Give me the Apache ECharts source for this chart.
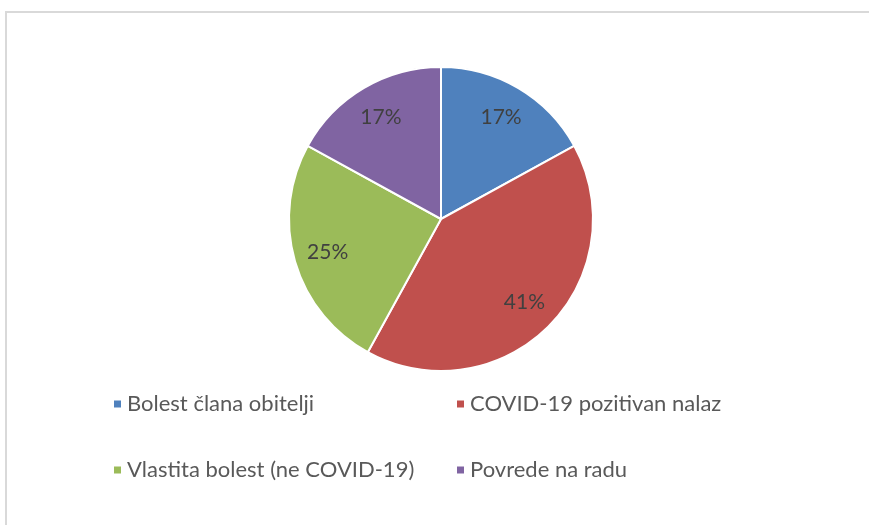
<!DOCTYPE html>
<html>
<head>
<meta charset="utf-8">
<script src="https://cdn.jsdelivr.net/npm/echarts@6/dist/echarts.min.js"></script>
<style>
  html, body { margin: 0; padding: 0; background: #fff; }
  #frame { position: absolute; left: 5px; top: 11px; width: 864px; height: 514px;
           border-left: 2px solid #d9d9d9; border-top: 2px solid #d9d9d9; box-sizing: border-box; }
  #chart { position: absolute; left: 0; top: 0; width: 869px; height: 525px; }
</style>
</head>
<body>
<div id="frame"></div>
<div id="chart"></div>
<script>
// categories + shares (%)
const categories = [
  'Bolest člana obitelji',
  'COVID-19 pozitivan nalaz',
  'Vlastita bolest (ne COVID-19)',
  'Povrede na radu',
];
const values = [17, 41, 25, 17];
const colors = ['#4f81bd', '#c0504d', '#9bbb59', '#8064a2'];

const FONT = 'Lato, "Open Sans", sans-serif';
const R = 152;

const chart = echarts.init(document.getElementById('chart'), null, { renderer: 'canvas' });

// legend: one per item so the 2x2 grid sits where the original has it
const legendPos = [
  { left: 112, top: 393 },
  { left: 455, top: 393 },
  { left: 112, top: 459 },
  { left: 455, top: 459 },
];
const legends = categories.map((name, i) => ({
  data: [name],
  left: legendPos[i].left,
  top: legendPos[i].top,
  padding: 0,
  icon: 'rect',
  itemWidth: 9,
  itemHeight: 9,
  itemGap: 6,
  selectedMode: false,
  textStyle: { color: '#595959', fontSize: 22, fontFamily: FONT, padding: [0, 0, 0, 0] },
}));

const pieData = categories.map((name, i) => ({
  name,
  value: values[i],
  itemStyle: { color: colors[i] },
}));

chart.setOption({
  animation: false,
  legend: legends,
  series: [
    {
      type: 'pie',
      center: [441, 219],
      radius: [0, R],
      startAngle: 90,
      clockwise: true,
      label: { show: false },
      labelLine: { show: false },
      itemStyle: { borderColor: '#fff', borderWidth: 2 },
      data: pieData,
    },
    {
      // transparent ring only used to place the % labels further out
      type: 'pie',
      center: [441, 219],
      radius: [78, R],
      startAngle: 90,
      clockwise: true,
      silent: true,
      legendHoverLink: false,
      itemStyle: { color: 'rgba(0,0,0,0)', borderWidth: 0 },
      emphasis: { disabled: true },
      label: {
        show: true,
        position: 'inside',
        formatter: '{d}%',
        color: '#404040',
        fontSize: 21,
        fontFamily: FONT,
      },
      labelLine: { show: false },
      data: categories.map((name, i) => ({ name: name + ' ', value: values[i] })),
    },
  ],
});
</script>
</body>
</html>
